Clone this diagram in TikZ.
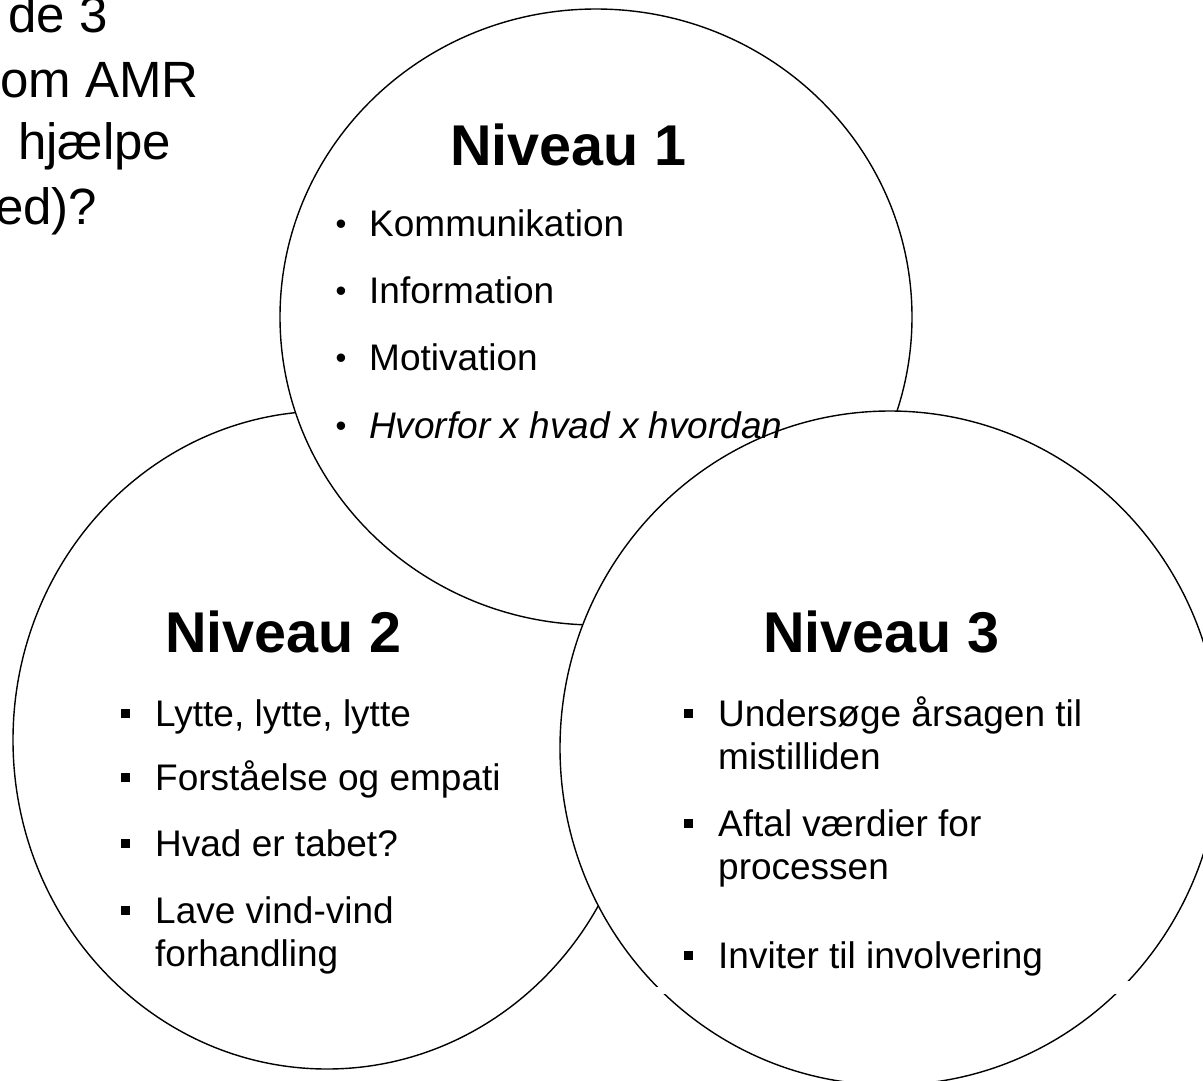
\documentclass[tikz,border=0pt]{standalone}
\usepackage{fontspec}
\setmainfont{Liberation Sans}
\newcommand{\bodyfont}{\fontsize{37}{43}\selectfont}
\newcommand{\headfont}{\fontsize{57.5}{69}\selectfont\bfseries}
\newcommand{\cornerfont}{\fontsize{51}{63}\selectfont}
\newcommand{\sqmark}{\rule[8.5pt]{9pt}{9pt}}
\newcommand{\dotmark}{\raisebox{2pt}{\fontsize{31}{34}\selectfont\textbullet}}
\newcommand{\twolines}[1]{\begin{tabular}[t]{@{}l@{}}#1\end{tabular}}

\begin{document}
\begin{tikzpicture}[x=1pt,y=-1pt,
  ring/.style={draw=black,line width=1.4pt,fill=white},
  head/.style={anchor=base west,inner sep=0pt,font=\headfont},
  txt/.style={anchor=base west,inner sep=0pt,font=\bodyfont},
  bul/.style={anchor=base,inner sep=0pt,font=\bodyfont},
  sq/.style={anchor=base west,inner sep=0pt,font=\bodyfont},
  corner/.style={anchor=base west,inner sep=0pt,font=\cornerfont}]
	\useasboundingbox (0,0) rectangle (1203,1080);
	\clip (0,0) rectangle (1203,1080);
	% the three circles, back to front
	\draw[ring] (327,740) ellipse [x radius=314pt, y radius=329pt];
	\draw[ring] (596,317) ellipse [x radius=316pt, y radius=308pt];
	\draw[ring] (890,748) ellipse [x radius=330pt, y radius=337pt];
	\fill[white] (648,987) rectangle (676,994);
	\fill[white] (1108,981) rectangle (1140,994);
	% cut-off text in the corner
	\node[corner] (c1) at (8,32) {de 3};
	\node[corner] (c2) at (0,97) {om AMR};
	\node[corner] (c3) at (18,159) {hjælpe};
	\node[corner] (c4) at (-5,224) {ed)?};
	% Niveau 1
	\node[head] (h1) at (450,165) {Niveau 1};
	\node[bul] (b1a) at (341,236) {\dotmark};
	\node[txt] (t1a) at (369,236) {Kommunikation};
	\node[bul] (b1b) at (341,303) {\dotmark};
	\node[txt] (t1b) at (369,303) {Information};
	\node[bul] (b1c) at (341,370) {\dotmark};
	\node[txt] (t1c) at (369,370) {Motivation};
	\node[bul] (b1d) at (341,438) {\dotmark};
	\node[txt] (t1d) at (369,438) {\itshape Hvorfor x hvad x hvordan};
	% Niveau 2
	\node[head] (h2) at (165,652) {Niveau 2};
	\node[sq] (b2a) at (121,726) {\sqmark};
	\node[txt] (t2a) at (155,726) {Lytte, lytte, lytte};
	\node[sq] (b2b) at (121,790) {\sqmark};
	\node[txt] (t2b) at (155,790) {Forståelse og empati};
	\node[sq] (b2c) at (121,856) {\sqmark};
	\node[txt] (t2c) at (155,856) {Hvad er tabet?};
	\node[sq] (b2d) at (121,923) {\sqmark};
	\node[txt] (t2d) at (155,923) {\twolines{Lave vind-vind\\forhandling}};
	% Niveau 3
	\node[head] (h3) at (763,652) {Niveau 3};
	\node[sq] (b3a) at (684,726) {\sqmark};
	\node[txt] (t3a) at (718,726) {\twolines{Undersøge årsagen til\\mistilliden}};
	\node[sq] (b3b) at (684,836) {\sqmark};
	\node[txt] (t3b) at (718,836) {\twolines{Aftal værdier for\\processen}};
	\node[sq] (b3c) at (684,968) {\sqmark};
	\node[txt] (t3c) at (718,968) {Inviter til involvering};
\end{tikzpicture}
\end{document}
